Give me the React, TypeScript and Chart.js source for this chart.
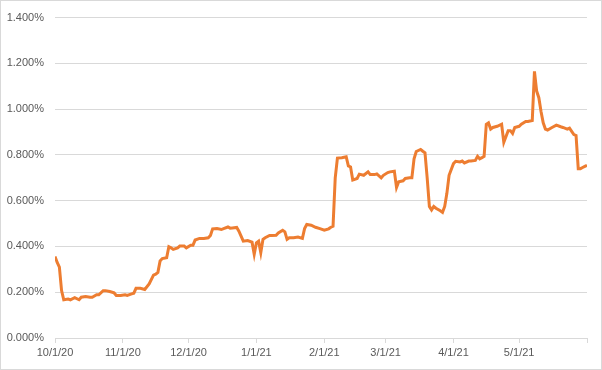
import React, { useEffect, useRef } from "react";
import { Chart, registerables } from "chart.js";

Chart.register(...registerables);

// Days since 10/1/20
const days = [0,1,2,3,4,6,7,9,11,12,14,16,17,19,20,22,23,25,27,28,30,32,33,35,36,37,39,41,43,45,46,47,48,49,51,52,53,54,56,57,59,60,62,63,64,66,68,70,71,72,74,76,77,79,80,81,83,84,85,86,88,90,91,92,93,94,95,96,98,99,101,102,104,105,106,107,109,111,113,114,115,117,119,121,123,125,126,127,128,129,131,133,134,135,136,138,139,141,143,144,146,147,149,150,152,153,155,156,157,159,160,162,163,164,165,167,168,169,170,171,172,173,174,176,177,178,179,180,182,183,185,186,187,189,190,192,193,194,195,196,197,198,199,200,202,204,205,207,208,209,210,212,213,215,216,218,219,220,221,222,223,224,225,227,229,231,232,234,235,236,237,238,239,240,241,242,243];

// Values in percent
const values = [0.356,0.33,0.31,0.207,0.167,0.17,0.167,0.176,0.167,0.178,0.181,0.178,0.178,0.189,0.189,0.207,0.207,0.203,0.197,0.186,0.186,0.189,0.186,0.193,0.196,0.217,0.217,0.212,0.236,0.275,0.279,0.287,0.337,0.347,0.351,0.399,0.394,0.387,0.394,0.402,0.402,0.394,0.405,0.405,0.428,0.435,0.435,0.438,0.448,0.477,0.478,0.474,0.478,0.485,0.48,0.481,0.483,0.467,0.445,0.423,0.426,0.419,0.366,0.416,0.423,0.373,0.431,0.438,0.448,0.448,0.449,0.459,0.471,0.464,0.431,0.438,0.438,0.441,0.435,0.478,0.496,0.493,0.484,0.478,0.471,0.477,0.484,0.488,0.70,0.786,0.788,0.792,0.752,0.747,0.69,0.697,0.716,0.711,0.726,0.714,0.714,0.717,0.70,0.711,0.723,0.726,0.729,0.658,0.683,0.687,0.697,0.70,0.70,0.783,0.815,0.824,0.816,0.809,0.70,0.575,0.56,0.575,0.567,0.556,0.549,0.575,0.632,0.711,0.762,0.772,0.769,0.773,0.765,0.773,0.773,0.776,0.794,0.783,0.788,0.794,0.934,0.94,0.913,0.92,0.925,0.934,0.855,0.906,0.906,0.894,0.92,0.925,0.934,0.946,0.946,0.95,1.165,1.079,1.05,0.99,0.94,0.913,0.909,0.92,0.93,0.923,0.92,0.913,0.917,0.903,0.889,0.885,0.74,0.74,0.745,0.75,0.755];

const tickDays = [0, 31, 61, 92, 123, 151, 182, 212, 243];
const tickLabels = ["10/1/20", "11/1/20", "12/1/20", "1/1/21", "2/1/21", "3/1/21", "4/1/21", "5/1/21", ""];

const FONT = { family: "'Liberation Sans', Arial, sans-serif", size: 11 };
const TEXT = "#595959";
const GRID = "#d9d9d9";

const frame = {
  id: "frame",
  beforeDraw(chart: any) {
    const c = chart.ctx;
    c.save();
    c.fillStyle = "#ffffff";
    c.fillRect(0, 0, chart.width, chart.height);
    c.strokeStyle = GRID;
    c.lineWidth = 1;
    c.strokeRect(0.5, 0.5, chart.width - 1, chart.height - 1);
    c.restore();
  },
};

export default function App() {
  const ref = useRef<HTMLCanvasElement>(null);
  useEffect(() => {
    document.body.style.margin = "0";
    const points = days.map((d, i) => ({ x: d, y: values[i] }));
    const chart = new Chart(ref.current as HTMLCanvasElement, {
      type: "line",
      data: {
        datasets: [
          {
            data: points,
            borderColor: "#ed7d31",
            borderWidth: 3,
            pointRadius: 0,
            tension: 0,
            fill: false,
          },
        ],
      },
      options: {
        animation: false,
        responsive: false,
        layout: { padding: { top: 14, right: 15, left: 0, bottom: 0 } },
        plugins: { legend: { display: false }, tooltip: { enabled: false } },
        scales: {
          x: {
            type: "linear",
            min: 0,
            max: 243,
            afterBuildTicks: (scale: any) => {
              scale.ticks = tickDays.map((v) => ({ value: v }));
            },
            afterFit: (scale: any) => {
              scale.height = 32;
            },
            ticks: {
              autoSkip: false,
              maxRotation: 0,
              padding: 3,
              color: TEXT,
              font: FONT,
              callback: (v: any) => {
                const i = tickDays.indexOf(Number(v));
                return i >= 0 ? tickLabels[i] : "";
              },
            },
            grid: { drawOnChartArea: false, drawTicks: true, tickLength: 5, color: GRID },
            border: { color: GRID, width: 1 },
          },
          y: {
            min: 0,
            max: 1.4,
            afterFit: (scale: any) => {
              scale.width = 55;
            },
            ticks: {
              stepSize: 0.2,
              padding: 11,
              color: TEXT,
              font: FONT,
              callback: (v: any) => Number(v).toFixed(3) + "%",
            },
            grid: { color: GRID, drawTicks: false },
            border: { display: false },
          },
        },
      },
      plugins: [frame],
    });
    return () => chart.destroy();
  }, []);
  return (
    <div style={{ width: 602, height: 370 }}>
      <canvas ref={ref} width={602} height={370} style={{ display: "block" }} />
    </div>
  );
}
